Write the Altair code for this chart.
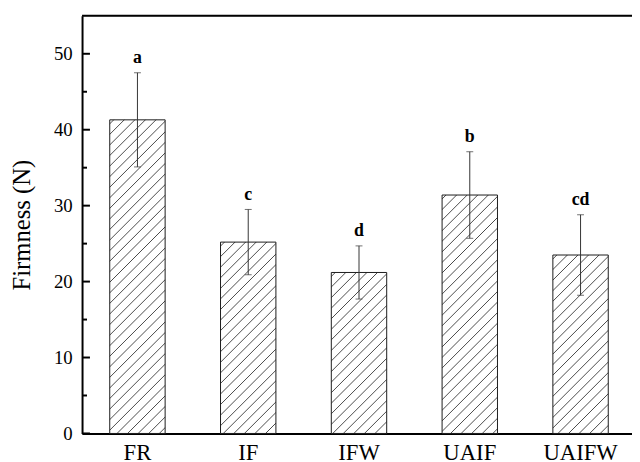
import altair as alt
import pandas as pd

# ---- data ----
groups = ["FR", "IF", "IFW", "UAIF", "UAIFW"]
means = [41.3, 25.2, 21.2, 31.4, 23.5]
sds = [6.2, 4.3, 3.5, 5.7, 5.3]
letters = ["a", "c", "d", "b", "cd"]
major_ticks = [0, 10, 20, 30, 40, 50]
minor_ticks = [5, 15, 25, 35, 45]

# ---- layout ----
PLOT_W = 557      # visible plot width (ends at the window edge)
RANGE_W = 561     # band range (last band step runs just past the window)
PLOT_H = 423
Y_MAX = 55
FONT = "Liberation Serif"

df = pd.DataFrame({
    "group": groups,
    "mean": means,
    "lower": [m - s for m, s in zip(means, sds)],
    "upper": [m + s for m, s in zip(means, sds)],
    "letter": letters,
})
major_df = pd.DataFrame({"v": major_ticks})
minor_df = pd.DataFrame({"v": minor_ticks})

x_scale = alt.Scale(domain=groups, paddingInner=0.5, paddingOuter=0.25, range=[0, RANGE_W])
y_scale = alt.Scale(domain=[0, Y_MAX], nice=False, zero=True)
x_axis = alt.Axis(title=None, labelAngle=0, ticks=False, labelPadding=8,
                  labelFont=FONT, labelFontSize=23)
y_axis = alt.Axis(title="Firmness (N)", values=major_ticks, ticks=False, labelPadding=10,
                  titlePadding=19, grid=False, labelFont=FONT, titleFont=FONT,
                  labelFontSize=19, titleFontSize=25, titleFontWeight="normal")

X = alt.X("group:N", scale=x_scale, axis=x_axis, sort=groups)


def Y(field):
    return alt.Y(f"{field}:Q", scale=y_scale, axis=y_axis, title="Firmness (N)")


band_w = RANGE_W / len(groups) * 0.5
spacing = 10.7  # horizontal distance between hatch lines (px)


def hatch(value):
    h = value / Y_MAX * PLOT_H
    w = band_w
    c = (w + h) / (w * w + h * h)
    total = w + h
    stops = [{"offset": 0, "color": "#ffffff"}]
    k = 0.0
    while True:
        a = (k * spacing + 3) / total
        b = (k * spacing + 4.0) / total
        e = (k * spacing + 5.0) / total
        if e >= 1:
            break
        stops += [{"offset": a, "color": "#ffffff"},
                  {"offset": b, "color": "#4a4a4a"},
                  {"offset": e, "color": "#ffffff"}]
        k += 1
    stops.append({"offset": 1, "color": "#ffffff"})
    return {"gradient": "linear", "x1": 0, "y1": 0, "x2": c * w, "y2": c * h, "stops": stops}


layers = []
for g, m in zip(groups, means):
    layers.append(
        alt.Chart(df).transform_filter(alt.datum.group == g)
        .mark_bar(fill=hatch(m), stroke="#1a1a1a", strokeWidth=1)
        .encode(x=X, y=Y("mean"))
    )

err = alt.Chart(df).mark_rule(color="#333", strokeWidth=1).encode(
    x=X, y=Y("lower"), y2="upper:Q")
cap_hi = alt.Chart(df).mark_tick(color="#333", thickness=1, size=7).encode(x=X, y=Y("upper"))
cap_lo = alt.Chart(df).mark_tick(color="#333", thickness=1, size=7).encode(x=X, y=Y("lower"))
labels = alt.Chart(df).mark_text(dy=-15, font=FONT, fontSize=18, fontWeight="bold",
                                 baseline="middle", color="#000").encode(
    x=X, y=Y("upper"), text="letter:N")

# inward tick marks drawn from the tick-value tables
yticks_major = alt.Chart(major_df).mark_rule(color="#000", strokeWidth=2).encode(
    y=Y("v"), x=alt.value(0), x2=alt.value(8))
yticks_minor = alt.Chart(minor_df).mark_rule(color="#000", strokeWidth=2).encode(
    y=Y("v"), x=alt.value(0), x2=alt.value(5))

top_line = alt.Chart(pd.DataFrame({"a": [0]})).mark_rule(color="#000", strokeWidth=2).encode(
    y=alt.value(0), x=alt.value(0), x2=alt.value(PLOT_W + 10))

chart = alt.layer(*layers, err, cap_hi, cap_lo, labels, yticks_major, yticks_minor, top_line).properties(
    width=PLOT_W, height=PLOT_H,
    autosize=alt.AutoSizeParams(type="none"),
    padding={"left": 75, "top": 5, "right": 0, "bottom": 26},
).configure_view(stroke=None).configure(background="#ffffff").configure_axis(
    labelFont=FONT, titleFont=FONT, labelColor="#000", titleColor="#000",
    domainColor="#000", domainWidth=2, grid=False,
)

chart.save("out.html", embed_options={"renderer": "svg", "actions": False})
